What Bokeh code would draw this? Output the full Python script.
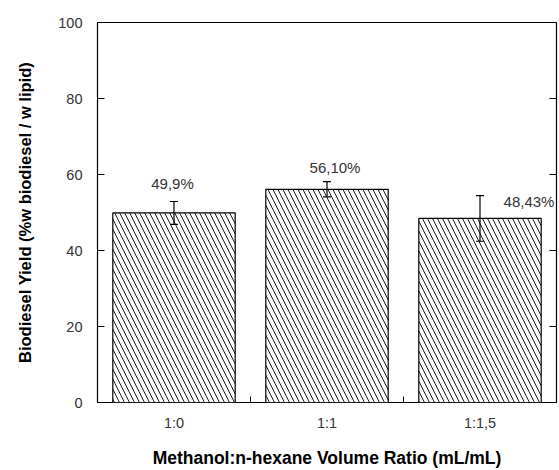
from bokeh.plotting import figure
from bokeh.models import Range1d, LinearAxis, FixedTicker, Label, Whisker, ColumnDataSource
from bokeh.embed import file_html
from bokeh.resources import INLINE

categories = ["1:0", "1:1", "1:1,5"]
yields = [49.9, 56.1, 48.43]
errors = [3.0, 2.0, 6.0]
value_labels = ["49,9%", "56,10%", "48,43%"]
y_ticks = [0, 20, 40, 60, 80, 100]

xs = [i + 0.5 for i in range(len(categories))]
src = ColumnDataSource(dict(
    x=xs, top=yields,
    upper=[v + e for v, e in zip(yields, errors)],
    lower=[v - e for v, e in zip(yields, errors)],
))

FONT = "Liberation Sans"

p = figure(width=559, height=470, output_backend="svg", toolbar_location=None,
           x_range=Range1d(0, len(categories)), y_range=Range1d(0, 100),
           min_border_left=97, min_border_top=22, min_border_right=3, min_border_bottom=65,
           x_axis_location=None, y_axis_location=None)
p.grid.visible = False
p.outline_line_color = "black"
p.outline_line_width = 1.2
p.background_fill_color = "white"
p.border_fill_color = "white"

p.vbar(x="x", top="top", width=0.8, source=src, fill_color="white", line_color="black",
       line_width=1.2, hatch_pattern="\\", hatch_color="black", hatch_scale=10, hatch_weight=0.9)

w = Whisker(base="x", upper="upper", lower="lower", source=src, line_color="black",
            line_width=1.2, level="overlay")
w.upper_head.size = 8
w.lower_head.size = 8
w.upper_head.line_width = 1.2
w.lower_head.line_width = 1.2
p.add_layout(w)

# value labels
offsets = [(-1.5, 18), (8, 14), (49, -6)]
for xv, top, err, lab, (dx, dy) in zip(xs, yields, errors, value_labels, offsets):
    p.add_layout(Label(x=xv, y=top + err, x_offset=dx, y_offset=dy, text=lab,
                       text_align="center", text_baseline="middle",
                       text_font=FONT, text_font_size="15px", text_color="#333333"))

# bottom axis
xax = LinearAxis(ticker=FixedTicker(ticks=xs, minor_ticks=[1, 2]),
                 major_label_overrides={xv: c for xv, c in zip(xs, categories)},
                 axis_label="Methanol:n-hexane Volume Ratio (mL/mL)")
xax.major_tick_in = 0
xax.major_tick_out = 0
xax.minor_tick_in = 6
xax.minor_tick_out = 0
xax.minor_tick_line_color = "black"
xax.axis_line_color = None
xax.major_label_standoff = 12
xax.major_label_text_font = FONT
xax.major_label_text_font_size = "14.5px"
xax.major_label_text_color = "#333333"
xax.axis_label_standoff = 14
xax.axis_label_text_font = FONT
xax.axis_label_text_font_style = "bold"
xax.axis_label_text_font_size = "17.5px"
xax.axis_label_text_color = "black"
p.add_layout(xax, "below")

# left axis
yax = LinearAxis(ticker=FixedTicker(ticks=y_ticks),
                 axis_label="Biodiesel Yield (%w biodiesel / w lipid)")
yax.major_tick_in = 7
yax.major_tick_out = 0
yax.minor_tick_line_color = None
yax.axis_line_color = None
yax.major_tick_line_color = "black"
yax.major_label_standoff = 15
yax.major_label_text_font = FONT
yax.major_label_text_font_size = "14.5px"
yax.major_label_text_color = "#333333"
yax.axis_label_standoff = 21
yax.axis_label_text_font = FONT
yax.axis_label_text_font_style = "bold"
yax.axis_label_text_font_size = "16.5px"
yax.axis_label_text_color = "black"
p.add_layout(yax, "left")

# right axis (ticks only)
rax = LinearAxis(ticker=FixedTicker(ticks=y_ticks),
                 major_label_overrides={t: "" for t in y_ticks})
rax.major_tick_in = 7
rax.major_tick_out = 0
rax.major_label_standoff = 0
rax.minor_tick_line_color = None
rax.axis_line_color = None
rax.major_label_text_font_size = "1px"
p.add_layout(rax, "right")

open("out.html", "w").write(file_html(p, INLINE))
